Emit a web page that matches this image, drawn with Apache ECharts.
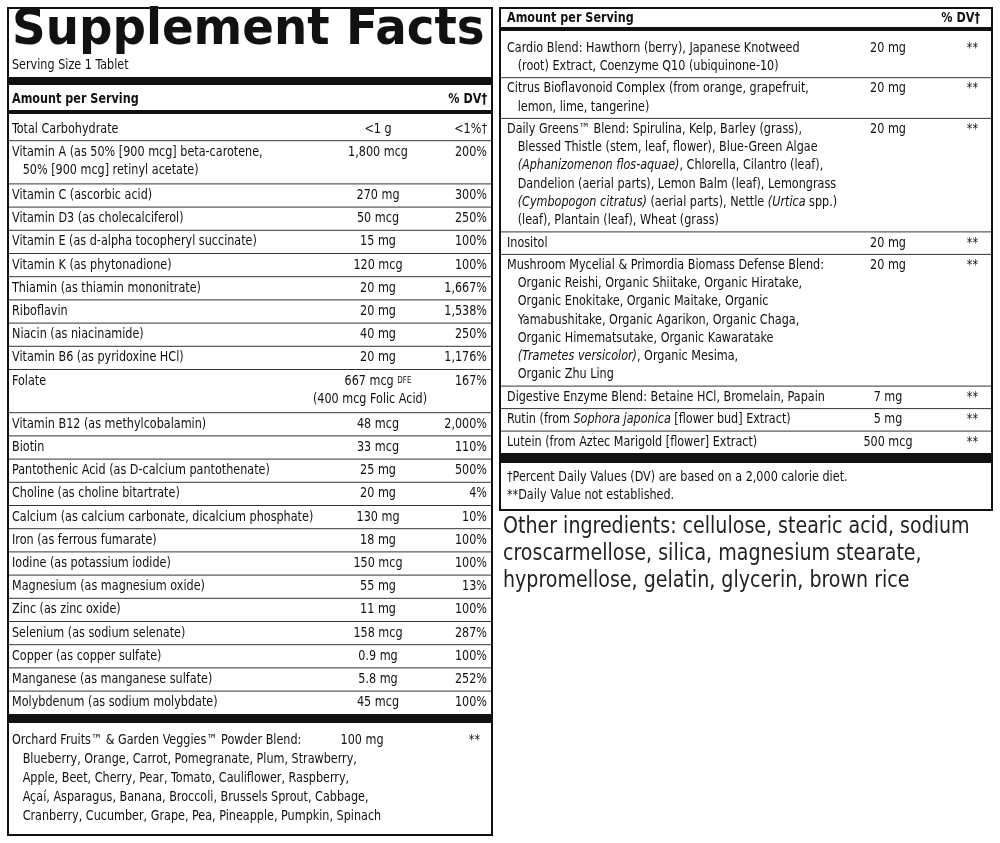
<!DOCTYPE html>
<html>
<head>
<meta charset="utf-8">
<script src="https://cdn.jsdelivr.net/npm/echarts@6/dist/echarts.min.js"></script>
<style>html,body{margin:0;padding:0;background:#fff}#label{width:1000px;height:843px}</style>
</head>
<body>
<div id="label"></div>
<script>
var chart = echarts.init(document.getElementById('label'));
var font = '"Liberation Sans Narrow", "DejaVu Sans Condensed", sans-serif';

// left panel rows: [name lines, amount lines, %DV]
var leftRows = [
    [['Total Carbohydrate'], ['<1 g'], '<1%†'],
    [['Vitamin A (as 50% [900 mcg] beta-carotene,', '   50% [900 mcg] retinyl acetate)'], ['1,800 mcg'], '200%'],
    [['Vitamin C (ascorbic acid)'], ['270 mg'], '300%'],
    [['Vitamin D3 (as cholecalciferol)'], ['50 mcg'], '250%'],
    [['Vitamin E (as d-alpha tocopheryl succinate)'], ['15 mg'], '100%'],
    [['Vitamin K (as phytonadione)'], ['120 mcg'], '100%'],
    [['Thiamin (as thiamin mononitrate)'], ['20 mg'], '1,667%'],
    [['Riboflavin'], ['20 mg'], '1,538%'],
    [['Niacin (as niacinamide)'], ['40 mg'], '250%'],
    [['Vitamin B6 (as pyridoxine HCl)'], ['20 mg'], '1,176%'],
    [['Folate'], ['667 mcg {s|DFE}', '(400 mcg Folic Acid)'], '167%'],
    [['Vitamin B12 (as methylcobalamin)'], ['48 mcg'], '2,000%'],
    [['Biotin'], ['33 mcg'], '110%'],
    [['Pantothenic Acid (as D-calcium pantothenate)'], ['25 mg'], '500%'],
    [['Choline (as choline bitartrate)'], ['20 mg'], '4%'],
    [['Calcium (as calcium carbonate, dicalcium phosphate)'], ['130 mg'], '10%'],
    [['Iron (as ferrous fumarate)'], ['18 mg'], '100%'],
    [['Iodine (as potassium iodide)'], ['150 mcg'], '100%'],
    [['Magnesium (as magnesium oxide)'], ['55 mg'], '13%'],
    [['Zinc (as zinc oxide)'], ['11 mg'], '100%'],
    [['Selenium (as sodium selenate)'], ['158 mcg'], '287%'],
    [['Copper (as copper sulfate)'], ['0.9 mg'], '100%'],
    [['Manganese (as manganese sulfate)'], ['5.8 mg'], '252%'],
    [['Molybdenum (as sodium molybdate)'], ['45 mcg'], '100%']
];

var orchardLines = [
    'Orchard Fruits™ & Garden Veggies™ Powder Blend:',
    '   Blueberry, Orange, Carrot, Pomegranate, Plum, Strawberry,',
    '   Apple, Beet, Cherry, Pear, Tomato, Cauliflower, Raspberry,',
    '   Açaí, Asparagus, Banana, Broccoli, Brussels Sprout, Cabbage,',
    '   Cranberry, Cucumber, Grape, Pea, Pineapple, Pumpkin, Spinach'
];
var orchardAmount = '100 mg';
var orchardDv = '**';

// right panel rows; {i|...} marks italic text
var rightRows = [
    [['Cardio Blend: Hawthorn (berry), Japanese Knotweed', '   (root) Extract, Coenzyme Q10 (ubiquinone-10)'], '20 mg', '**'],
    [['Citrus Bioflavonoid Complex (from orange, grapefruit,', '   lemon, lime, tangerine)'], '20 mg', '**'],
    [['Daily Greens™ Blend: Spirulina, Kelp, Barley (grass),', '   Blessed Thistle (stem, leaf, flower), Blue-Green Algae',
      '   {i|(Aphanizomenon flos-aquae)}, Chlorella, Cilantro (leaf),', '   Dandelion (aerial parts), Lemon Balm (leaf), Lemongrass',
      '   {i|(Cymbopogon citratus)} (aerial parts), Nettle {i|(Urtica} spp.)', '   (leaf), Plantain (leaf), Wheat (grass)'], '20 mg', '**'],
    [['Inositol'], '20 mg', '**'],
    [['Mushroom Mycelial & Primordia Biomass Defense Blend:', '   Organic Reishi, Organic Shiitake, Organic Hiratake,',
      '   Organic Enokitake, Organic Maitake, Organic', '   Yamabushitake, Organic Agarikon, Organic Chaga,',
      '   Organic Himematsutake, Organic Kawaratake', '   {i|(Trametes versicolor)}, Organic Mesima,', '   Organic Zhu Ling'], '20 mg', '**'],
    [['Digestive Enzyme Blend: Betaine HCl, Bromelain, Papain'], '7 mg', '**'],
    [['Rutin (from {i|Sophora japonica} [flower bud] Extract)'], '5 mg', '**'],
    [['Lutein (from Aztec Marigold [flower] Extract)'], '500 mcg', '**']
];

var footnotes = ['†Percent Daily Values (DV) are based on a 2,000 calorie diet.', '**Daily Value not established.'];
var otherIngredients = ['Other ingredients: cellulose, stearic acid, sodium', 'croscarmellose, silica, magnesium stearate,', 'hypromellose, gelatin, glycerin, brown rice'];

var g = [];
function txt(x, y, s, opt) {
    opt = opt || {};
    g.push({
        type: 'text', x: x, y: y, scaleX: opt.sx || 0.89,
        style: {
            text: s, fill: opt.fill || '#111', font: (opt.weight || 'normal') + ' ' + (opt.size || 14) + 'px ' + (opt.family || font),
            align: opt.align || 'left', verticalAlign: 'middle',
            rich: {
                i: { fontStyle: 'italic', fontSize: opt.size || 14, fontFamily: font, fill: '#111' },
                s: { fontSize: 9, fontFamily: font, fill: '#111' }
            }
        }
    });
}
function bar(x1, x2, y, h) {
    g.push({ type: 'rect', shape: { x: x1, y: y, width: x2 - x1, height: h }, style: { fill: '#111' } });
}
function line(x1, x2, y) {
    g.push({ type: 'line', shape: { x1: x1, y1: y, x2: x2, y2: y }, style: { stroke: '#333', lineWidth: 1 } });
}

// left box
g.push({ type: 'rect', shape: { x: 8, y: 8, width: 484, height: 827 }, style: { fill: 'none', stroke: '#111', lineWidth: 2 } });
txt(12, 31, 'Supplement Facts', { size: 50, weight: '900', family: '"DejaVu Sans", sans-serif', sx: 0.935 });
txt(12, 65, 'Serving Size 1 Tablet');
bar(9, 491, 77, 8);
txt(12, 99, 'Amount per Serving', { weight: 'bold' });
txt(487, 99, '% DV†', { weight: 'bold', align: 'right' });
bar(9, 491, 110, 4);

var y = 129;
leftRows.forEach(function (r, i) {
    if (i > 0) line(9, 491, y - 11.5);
    r[0].forEach(function (s, k) { txt(12, y + k * 18, s); });
    r[1].forEach(function (s, k) { txt(k ? 370 : 378, y + k * 18, s, { align: 'center' }); });
    txt(487, y, r[2], { align: 'right' });
    y += 23.2 + 20 * (Math.max(r[0].length, r[1].length) - 1);
});
bar(9, 491, 714, 9);
orchardLines.forEach(function (s, k) { txt(12, 740 + k * 19.2, s); });
txt(362, 740, orchardAmount, { align: 'center' });
txt(480, 740, orchardDv, { align: 'right' });

// right box
g.push({ type: 'rect', shape: { x: 500, y: 8, width: 492, height: 502 }, style: { fill: 'none', stroke: '#111', lineWidth: 2 } });
txt(507, 18, 'Amount per Serving', { weight: 'bold' });
txt(980, 18, '% DV†', { weight: 'bold', align: 'right' });
bar(501, 991, 27, 4);
y = 48;
rightRows.forEach(function (r, i) {
    if (i > 0) line(501, 991, y - 11);
    r[0].forEach(function (s, k) { txt(507, y + k * 18.2, s); });
    txt(888, y, r[1], { align: 'center' });
    txt(978, y, r[2], { align: 'right' });
    y += 22.5 + 18.2 * (r[0].length - 1);
});
bar(501, 991, 453, 10);
footnotes.forEach(function (s, k) { txt(507, 477 + k * 18, s); });
otherIngredients.forEach(function (s, k) { txt(503, 527 + k * 27, s, { size: 23, fill: '#222', sx: 0.92 }); });

chart.setOption({ animation: false, graphic: g });
</script>
</body>
</html>
